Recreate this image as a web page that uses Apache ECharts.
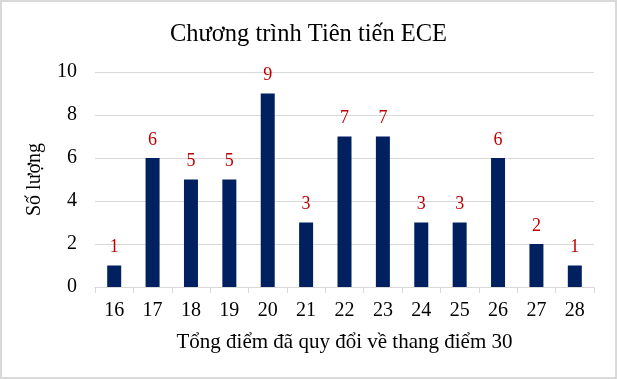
<!DOCTYPE html>
<html><head><meta charset="utf-8">
<script src="https://cdn.jsdelivr.net/npm/echarts@6/dist/echarts.min.js"></script>
<style>
html,body{margin:0;padding:0;background:#fff;}
#c{width:613px;height:375px;border:2px solid #d9d9d9;}
</style></head>
<body><div id="c"></div>
<script>
const categories = ['16','17','18','19','20','21','22','23','24','25','26','27','28'];
const counts = [1,6,5,5,9,3,7,7,3,3,6,2,1];
const yTicks = [0,2,4,6,8,10];
const titleText = 'Chương trình Tiên tiến ECE';
const xName = 'Tổng điểm đã quy đổi về thang điểm 30';
const yName = 'Số lượng';
const font = '"Liberation Serif","Times New Roman",serif';
const chart = echarts.init(document.getElementById('c'));
chart.setOption({
  animation:false,
  title:{text:titleText,left:'center',top:15,textStyle:{fontFamily:font,fontSize:24.5,fontWeight:'normal',color:'#000'}},
  grid:{left:93,right:21,top:70,bottom:90},
  xAxis:{type:'category',data:categories,
    name:xName,nameLocation:'middle',nameGap:45,
    nameTextStyle:{fontFamily:font,fontSize:21,color:'#000'},
    axisLine:{lineStyle:{color:'#d9d9d9'}},
    axisTick:{show:true,length:6,lineStyle:{color:'#d9d9d9'}},
    axisLabel:{fontFamily:font,fontSize:20,color:'#000',margin:14}},
  yAxis:{type:'value',min:yTicks[0],max:yTicks[yTicks.length-1],interval:2,
    name:yName,nameLocation:'middle',nameGap:50,
    nameTextStyle:{fontFamily:font,fontSize:20,color:'#000'},
    axisLine:{show:false},axisTick:{show:false},
    splitLine:{lineStyle:{color:'#d9d9d9'}},
    axisLabel:{fontFamily:font,fontSize:20,color:'#000',margin:18}},
  series:[{type:'bar',data:counts,barWidth:14,
    itemStyle:{color:'#002060'},
    label:{show:true,position:'top',distance:9,fontFamily:font,fontSize:18,color:'#c00000'}}]
});
</script></body></html>
